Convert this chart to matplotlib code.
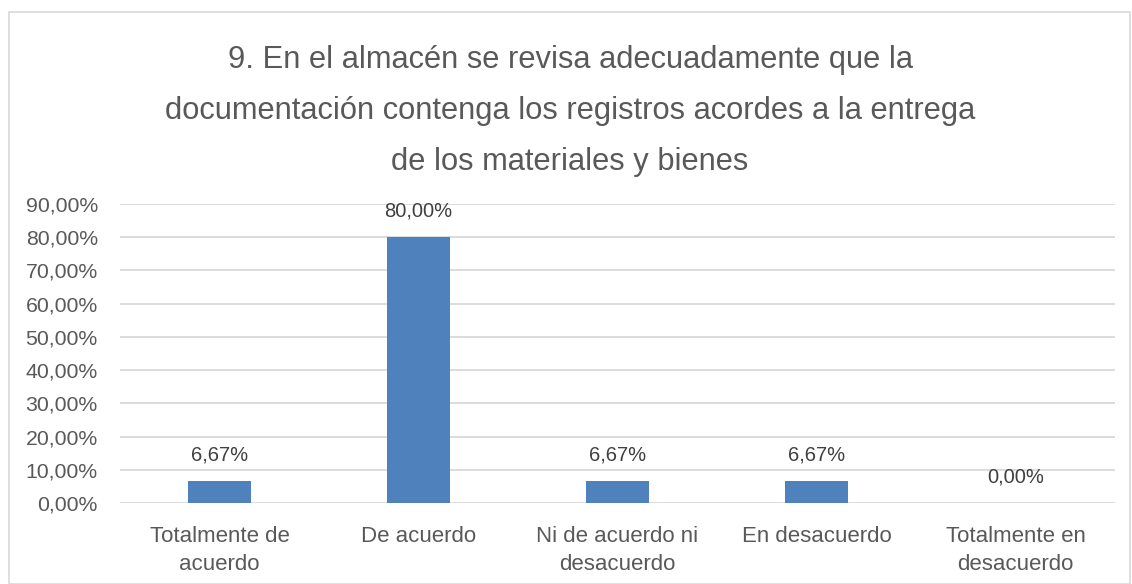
import matplotlib.pyplot as plt
from matplotlib.patches import Rectangle

plt.rcParams['font.family'] = ['Liberation Sans', 'DejaVu Sans']

categories = ['Totalmente de\nacuerdo', 'De acuerdo', 'Ni de acuerdo ni\ndesacuerdo',
              'En desacuerdo', 'Totalmente en\ndesacuerdo']
values = [6.67, 80.00, 6.67, 6.67, 0.00]
yticks = [0, 10, 20, 30, 40, 50, 60, 70, 80, 90]
title = ('9. En el almacén se revisa adecuadamente que la\n'
         'documentación contenga los registros acordes a la entrega\n'
         'de los materiales y bienes')

gray = '#595959'
fig = plt.figure(figsize=(11.32, 5.84), dpi=100)
fig.patches.append(Rectangle((9/1132, 0), 1121/1132, 572/584, transform=fig.transFigure,
                             fill=False, edgecolor='#d9d9d9', linewidth=1.2))
ax = fig.add_axes([120/1132, 1-503/584, 995/1132, 299/584])

x = range(len(values))
ax.bar(x, values, width=0.316, color='#4F81BD', zorder=3)
for i, v in enumerate(values):
    ax.annotate(('%.2f%%' % v).replace('.', ','), (i, v), xytext=(0, 12),
                textcoords='offset points', ha='center', va='bottom',
                fontsize=14.5, color='#404040')

ax.set_xlim(-0.5, len(values)-0.5)
ax.set_ylim(0, 90)
ax.set_yticks(yticks)
ax.set_yticklabels(['%d,00%%' % t for t in yticks], fontsize=15.3, color=gray)
ax.set_xticks(list(x))
ax.set_xticklabels(categories, fontsize=16, color=gray, linespacing=1.45)
ax.tick_params(length=0)
ax.tick_params(axis='x', pad=16.5)
ax.tick_params(axis='y', pad=16)
ax.grid(axis='y', color='#d9d9d9', linewidth=1.3, zorder=0)
for s in ax.spines.values():
    s.set_visible(False)

fig.text(0.5 + 4/1132, 1-111/584, title, ha='center', va='center', fontsize=22.2,
         color=gray, linespacing=1.9)

fig.savefig('out.png', dpi=100)
